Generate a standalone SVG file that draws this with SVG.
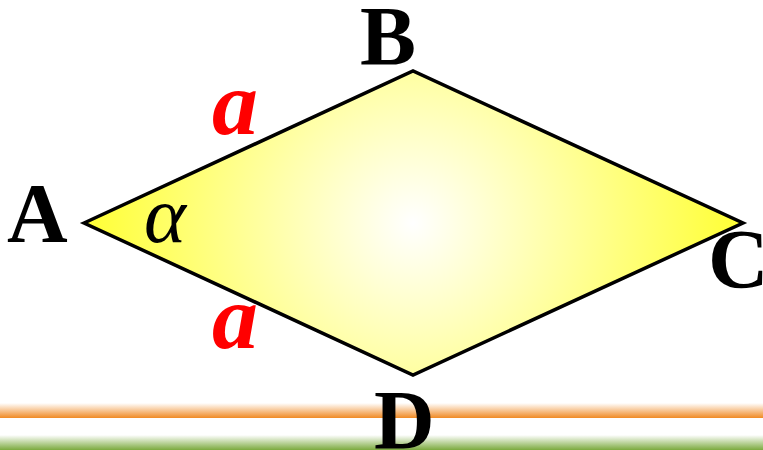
<svg xmlns="http://www.w3.org/2000/svg" width="763" height="450" viewBox="0 0 763 450">
<defs>
<radialGradient id="fill" gradientUnits="userSpaceOnUse" cx="413" cy="223" r="330">
<stop offset="0" stop-color="#FFFFFF"/>
<stop offset="1" stop-color="#FFFF33"/>
</radialGradient>
<linearGradient id="orange" x1="0" y1="0" x2="0" y2="1">
<stop offset="0" stop-color="#F08A24" stop-opacity="0"/>
<stop offset="1" stop-color="#F08A24"/>
</linearGradient>
<linearGradient id="green" x1="0" y1="0" x2="0" y2="1">
<stop offset="0" stop-color="#7BAA3E" stop-opacity="0"/>
<stop offset="1" stop-color="#7BAA3E"/>
</linearGradient>
<style>
.lbl{font-family:"Liberation Serif","Times New Roman",serif;font-weight:bold;font-size:84px;fill:#000}
.side{font-family:"Liberation Serif","Times New Roman",serif;font-weight:bold;font-style:italic;font-size:92px;fill:#FF0000}
.ang{font-family:"Liberation Serif","Times New Roman",serif;font-style:italic;font-size:80px;fill:#000}
</style>
</defs>
<rect width="763" height="450" fill="#FFFFFF"/>
<g id="bands">
<rect x="0" y="403" width="763" height="15" fill="url(#orange)"/>
<rect x="0" y="435" width="763" height="15" fill="url(#green)"/>
</g>
<g id="rhombus">
<polygon points="84,223 413,71 743,223 413,375" fill="url(#fill)" stroke="#000" stroke-width="3.5" stroke-linejoin="miter"/>
</g>
<g id="labels">
<text class="lbl" x="7" y="242">A</text>
<text class="lbl" x="360" y="65">B</text>
<text class="lbl" x="708" y="288">C</text>
<text class="lbl" x="374" y="449">D</text>
<text class="side" x="212" y="134">a</text>
<text class="side" x="212" y="348">a</text>
<text class="ang" x="144" y="242">α</text>
</g>
</svg>
